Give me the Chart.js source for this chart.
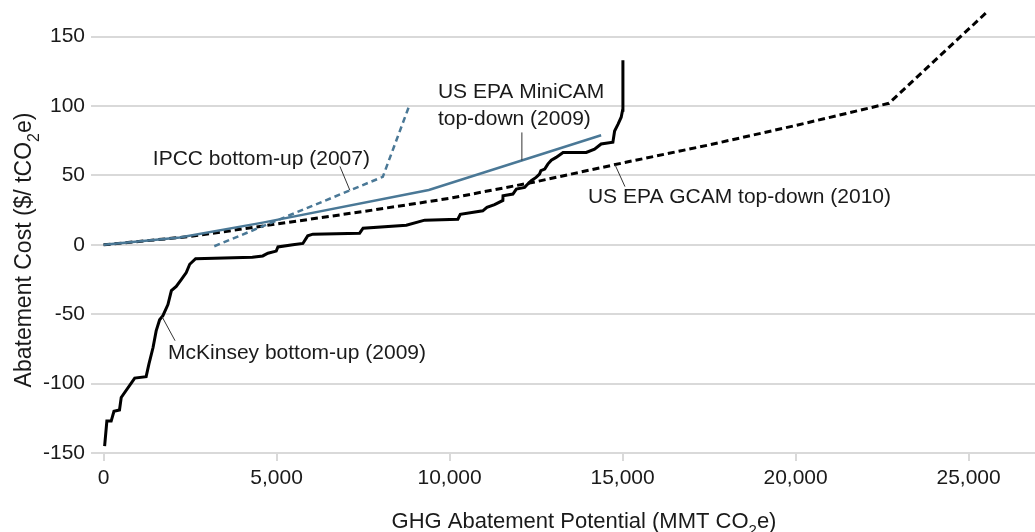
<!DOCTYPE html>
<html>
<head>
<meta charset="utf-8">
<script src="https://cdn.jsdelivr.net/npm/chart.js@4/dist/chart.umd.min.js"></script>
<style>
  html, body { margin: 0; padding: 0; background: #fff; }
  #wrap { width: 1035px; height: 532px; position: relative; }
</style>
</head>
<body>
<div id="wrap"><canvas id="chart"></canvas></div>
<script>
// tick labels
const xTicks = [0, 5000, 10000, 15000, 20000, 25000];
const yTicks = [-150, -100, -50, 0, 50, 100, 150];

// McKinsey bottom-up (2009) - stepped cost curve
const mckinseyX = [30, 95, 220, 300, 460, 510, 900, 1230, 1310, 1430, 1520, 1620, 1715, 1860, 1960, 2100, 2245, 2390, 2490, 2660,
  4300, 4600, 4750, 4990, 5040, 5470, 5760, 5900, 6050, 7400, 7500, 8750, 9280, 10240, 10310, 10960, 11080, 11300, 11540, 11545,
  11830, 11930, 12170, 12260, 12360, 12500, 12600, 12640, 12750, 12840, 12940, 13080, 13280, 13950, 14190, 14380, 14720, 14770,
  14870, 14960, 15000, 15010];
const mckinseyY = [-145, -127, -127, -120, -119, -110, -96, -95, -86, -74, -62, -54, -51, -43, -33, -30, -25, -20, -14, -10,
  -9, -8, -6, -4.5, -1.5, 0, 1, 6.5, 7.7, 8.4, 12, 14.2, 17.8, 18.5, 22, 24.5, 27, 29, 32, 35.4,
  36.6, 40.2, 41.4, 43.8, 46.2, 48.6, 51, 53.4, 54.6, 58.2, 61, 63, 66.6, 66.6, 69, 72.7, 74, 82,
  87, 92, 97, 133];

// IPCC bottom-up (2007)
const ipccX = [3200, 8070, 8830];
const ipccY = [-1, 49, 100];

// US EPA MiniCAM top-down (2009)
const miniX = [0, 2200, 4600, 9400, 14380];
const miniY = [0, 5.3, 16, 39.5, 79];

// US EPA GCAM top-down (2010)
const gcamX = [0, 2500, 5000, 7500, 10000, 12500, 15000, 17500, 20000, 22700, 25520];
const gcamY = [0, 6, 15, 24, 33.5, 45.5, 59, 72, 86, 102, 167.5];

const pts = (xs, ys) => xs.map((x, i) => ({ x: x, y: ys[i] }));

function interp(xs, ys, x) {
  for (let i = 1; i < xs.length; i++) {
    if (x <= xs[i]) {
      const t = (x - xs[i - 1]) / (xs[i] - xs[i - 1] || 1);
      return ys[i - 1] + t * (ys[i] - ys[i - 1]);
    }
  }
  return ys[ys.length - 1];
}

const FONT = 'Arial, "Liberation Sans", sans-serif';
const TEXT = '#1a1a1a';
const BLUE = '#4a7896';

// callout labels: anchored on a series at a given x, offsets in px
const notes = [
  { xs: mckinseyX, ys: mckinseyY, at: 1690, lines: ['McKinsey bottom-up (2009)'], lead: [13, 24], text: [6, 36], align: 'left' },
  { xs: ipccX, ys: ipccY, at: 7120, lines: ['IPCC bottom-up (2007)'], lead: [-10, -24], text: [20, -31], align: 'right' },
  { xs: miniX, ys: miniY, at: 12090, lines: ['US EPA MiniCAM', 'top-down (2009)'], lead: [0, -28], text: [-84, -68], align: 'left' },
  { xs: gcamX, ys: gcamY, at: 14780, lines: ['US EPA GCAM top-down (2010)'], lead: [10, 22], text: [-27, 33], align: 'left' }
];

// draw text with a subscript piece, centred on (0,0) of current transform
function drawRich(ctx, parts, size) {
  const big = size + 'px ' + FONT;
  const small = Math.round(size * 0.68) + 'px ' + FONT;
  let w = 0;
  parts.forEach(p => { ctx.font = p.sub ? small : big; w += ctx.measureText(p.t).width; });
  let x = -w / 2;
  ctx.textAlign = 'left';
  ctx.textBaseline = 'alphabetic';
  parts.forEach(p => {
    ctx.font = p.sub ? small : big;
    ctx.fillText(p.t, x, p.sub ? size * 0.33 + size * 0.36 : size * 0.36);
    x += ctx.measureText(p.t).width;
  });
}

const labelPlugin = {
  id: 'labels',
  afterDraw(chart) {
    const ctx = chart.ctx;
    const xs = chart.scales.x, ys = chart.scales.y;
    ctx.save();
    ctx.fillStyle = TEXT;
    ctx.strokeStyle = '#333';
    ctx.lineWidth = 1;
    notes.forEach(n => {
      const px = xs.getPixelForValue(n.at);
      const py = ys.getPixelForValue(interp(n.xs, n.ys, n.at));
      ctx.beginPath();
      ctx.moveTo(px, py);
      ctx.lineTo(px + n.lead[0], py + n.lead[1]);
      ctx.stroke();
      ctx.font = '21px ' + FONT;
      ctx.textAlign = n.align;
      ctx.textBaseline = 'middle';
      n.lines.forEach((l, i) => ctx.fillText(l, px + n.text[0], py + n.text[1] + i * 26.5));
    });

    // axis titles
    ctx.save();
    ctx.translate(584, 520);
    drawRich(ctx, [{ t: 'GHG Abatement Potential (MMT CO' }, { t: '2', sub: true }, { t: 'e)' }], 22);
    ctx.restore();
    ctx.save();
    ctx.translate(23, 250);
    ctx.rotate(-Math.PI / 2);
    drawRich(ctx, [{ t: 'Abatement Cost ($/ tCO' }, { t: '2', sub: true }, { t: 'e)' }], 23);
    ctx.restore();
    ctx.restore();
  }
};

Chart.defaults.font.family = FONT;
Chart.defaults.font.size = 21;
Chart.defaults.color = TEXT;

new Chart(document.getElementById('chart'), {
  type: 'line',
  data: {
    datasets: [
      { label: 'McKinsey bottom-up (2009)', data: pts(mckinseyX, mckinseyY), borderColor: '#000', borderWidth: 3 },
      { label: 'US EPA MiniCAM top-down (2009)', data: pts(miniX, miniY), borderColor: BLUE, borderWidth: 2.5 },
      { label: 'IPCC bottom-up (2007)', data: pts(ipccX, ipccY), borderColor: BLUE, borderWidth: 2.5, borderDash: [6, 4] },
      { label: 'US EPA GCAM top-down (2010)', data: pts(gcamX, gcamY), borderColor: '#000', borderWidth: 3, borderDash: [7, 4] }
    ]
  },
  options: {
    responsive: true,
    maintainAspectRatio: false,
    animation: false,
    layout: { padding: { top: 2, right: 0, left: 0, bottom: 0 } },
    elements: { point: { radius: 0 }, line: { tension: 0, fill: false, borderJoinStyle: 'miter' } },
    plugins: { legend: { display: false }, tooltip: { enabled: false } },
    scales: {
      x: {
        type: 'linear',
        min: -190,
        max: 26920,
        afterBuildTicks: s => { s.ticks = xTicks.map(v => ({ value: v })); },
        afterFit: s => { s.height = 79; s.paddingLeft = 0; s.paddingRight = 0; },
        ticks: { padding: 5, maxRotation: 0, callback: v => v.toLocaleString('en-US') },
        grid: { drawOnChartArea: false, tickLength: 8, color: '#d9d9d9', lineWidth: 2 },
        border: { display: false }
      },
      y: {
        min: -150,
        max: 175,
        afterBuildTicks: s => { s.ticks = yTicks.map(v => ({ value: v })); },
        afterFit: s => { s.width = 97; s.paddingTop = 0; s.paddingBottom = 0; },
        ticks: { padding: 6 },
        grid: { tickLength: 6, color: '#d9d9d9', lineWidth: 2 },
        border: { display: false }
      }
    }
  },
  plugins: [labelPlugin]
});
</script>
</body>
</html>
